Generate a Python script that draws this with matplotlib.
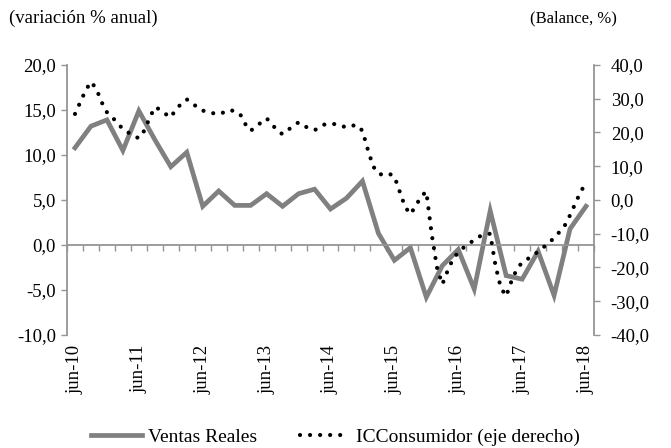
import matplotlib
matplotlib.use("Agg")
import matplotlib.pyplot as plt
from matplotlib.lines import Line2D

plt.rcParams["font.family"] = ["Liberation Serif", "DejaVu Serif"]

# quarterly real sales growth, jun-10 .. jun-18 (% y/y, left axis)
ventas = [10.8, 13.2, 13.9, 10.5, 14.9, 11.7, 8.7, 10.3, 4.3, 6.0, 4.4,
          4.4, 5.7, 4.3, 5.7, 6.2, 4.0, 5.2, 7.1, 1.3, -1.7, -0.3, -5.8,
          -2.3, -0.5, -4.9, 3.8, -3.4, -3.8, -0.7, -5.6, 1.8, 4.3]

# monthly consumer confidence balance, jun-10 .. jun-18 (right axis)
icc = [25.5, 29.0, 32.5, 35.0, 33.0, 29.0, 26.0, 24.5, 22.8, 21.0, 20.0,
       19.0, 18.3, 20.5, 24.2, 27.5, 26.8, 25.5, 24.5, 27.0, 28.5, 29.8,
       28.9, 27.3, 26.5, 26.0, 25.7, 25.4, 26.0, 26.7, 26.3, 25.5, 22.5,
       20.5, 21.8, 23.0, 24.2, 22.5, 20.5, 19.5, 20.7, 22.0, 23.0, 22.0,
       21.2, 20.7, 21.5, 22.5, 22.5, 22.5, 22.0, 21.5, 22.0, 22.2, 20.5,
       15.0, 10.0, 7.8, 7.4, 7.8, 7.0, 2.5, -2.0, -4.2, -1.8, 1.0, 2.5,
       -10.0, -20.0, -25.0, -21.0, -17.5, -15.5, -14.1, -13.0, -11.8,
       -10.8, -10.2, -10.0, -19.5, -26.0, -28.5, -24.0, -20.5, -18.5,
       -17.5, -16.5, -15.3, -14.0, -12.8, -11.2, -9.5, -7.6, -4.5, -1.0,
       2.5, 5.0]

year_labels = ["jun-10", "jun-11", "jun-12", "jun-13", "jun-14", "jun-15",
               "jun-16", "jun-17", "jun-18"]
left_ticks = [20, 15, 10, 5, 0, -5, -10]
right_ticks = [40, 30, 20, 10, 0, -10, -20, -30, -40]

GRAY = "#808080"
AXIS = "#959595"
FS = 13.5
DOTS = (0, (0.01, 2.4))


def fmt(v):
    return f"{v:.1f}".replace(".", ",")


fig = plt.figure(figsize=(6.71, 4.48), dpi=100)
ax = fig.add_axes([67 / 671, 1 - 335 / 448, (594 - 67) / 671, 270 / 448])

xq = list(range(len(ventas)))
xm = [i / 3 for i in range(len(icc))]

ax.plot(xq, ventas, color=GRAY, lw=3.4, solid_joinstyle="miter", zorder=2)
ax.set_xlim(-0.5, len(ventas) - 0.5)
ax.set_ylim(-10, 20)
ax.set_yticks(left_ticks)
ax.set_yticklabels([fmt(v) for v in left_ticks])

# category axis drawn on the zero line, ticks between quarters
ax.spines["bottom"].set_position(("data", 0))
ax.set_xticks([k - 0.5 for k in range(len(ventas) + 1)])
ax.set_xticklabels([])
ax.tick_params(axis="x", direction="out", length=4, width=1, color=AXIS)

ax.tick_params(axis="y", direction="out", length=4, width=1, color=AXIS,
               labelsize=FS, pad=4)
for side in ("top", "right"):
    ax.spines[side].set_visible(False)
for side in ("left", "bottom"):
    ax.spines[side].set_color(AXIS)
    ax.spines[side].set_linewidth(1.3)

sec = ax.secondary_xaxis("bottom")
sec.set_xticks(list(range(0, len(ventas), 4)))
sec.set_xticklabels(year_labels, rotation=90, fontsize=FS)
sec.tick_params(length=0, pad=7)
sec.spines["bottom"].set_visible(False)

ax2 = ax.twinx()
ax2.plot(xm, icc, color="black", lw=3.0, linestyle=DOTS,
         dash_capstyle="round", zorder=3)
ax2.set_ylim(-40, 40)
ax2.set_yticks(right_ticks)
ax2.set_yticklabels([fmt(v) for v in right_ticks])
ax2.tick_params(axis="y", direction="out", length=4, width=1, color=AXIS,
                labelsize=FS, pad=8)
for side in ("top", "left", "bottom"):
    ax2.spines[side].set_visible(False)
ax2.spines["right"].set_color(AXIS)
ax2.spines["right"].set_linewidth(1.3)

fig.text(9 / 671, 1 - 18 / 448, "(variación % anual)", fontsize=FS,
         va="center", ha="left")
fig.text(617 / 671, 1 - 18 / 448, "(Balance, %)", fontsize=12,
         va="center", ha="right")

handles = [Line2D([], [], color=GRAY, lw=3.4),
           Line2D([], [], color="black", lw=3.0, linestyle=DOTS,
                  dash_capstyle="round")]
fig.legend(handles, ["Ventas Reales", "ICConsumidor (eje derecho)"],
           loc="lower center", bbox_to_anchor=(0.5, -0.035), ncol=2,
           frameon=False, fontsize=14, handlelength=2.6, handletextpad=0.3,
           columnspacing=2.2)

fig.savefig("out.png", dpi=100)
